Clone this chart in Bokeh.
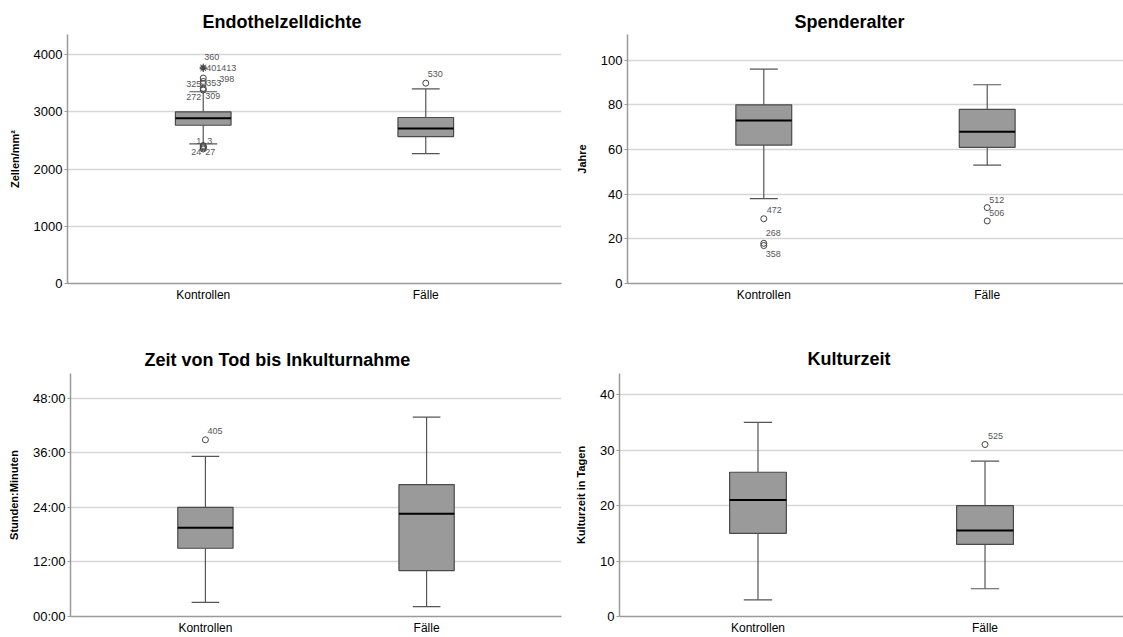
from bokeh.plotting import figure
from bokeh.models import Range1d, FixedTicker, ColumnDataSource
from bokeh.layouts import column, row
from bokeh.embed import file_html
from bokeh.resources import INLINE
from bokeh.core.properties import value

# ---------------- data ----------------
groups = ["Kontrollen", "Fälle"]
group_pos = [1, 2]

# Endothelzelldichte (Zellen/mm²)
ezd_q1 = [2765, 2567]
ezd_med = [2888, 2707]
ezd_q3 = [3000, 2900]
ezd_lo = [2440, 2270]
ezd_hi = [3350, 3400]
ezd_out_group = [0, 0, 0, 0, 0, 0, 0, 0, 0, 0, 0, 0, 1]
ezd_out_val = [3780, 3760, 3760, 3590, 3530, 3490, 3410, 3380, 2410, 2390, 2370, 2350, 3500]
ezd_out_id = ["360", "401", "413", "398", "353", "325", "309", "272", "1", "3", "24", "27", "530"]
ezd_out_extreme = [True, True, True, False, False, False, False, False, False, False, False, False, False]

# Spenderalter (Jahre)
age_q1 = [62, 61]
age_med = [73, 68]
age_q3 = [80, 78]
age_lo = [38, 53]
age_hi = [96, 89]
age_out_group = [0, 0, 0, 1, 1]
age_out_val = [29, 18, 17, 34, 28]
age_out_id = ["472", "268", "358", "512", "506"]
age_out_extreme = [False] * 5

# Zeit von Tod bis Inkulturnahme (Stunden:Minuten)
zeit_q1 = ["15:00", "10:05"]
zeit_med = ["19:30", "22:35"]
zeit_q3 = ["24:00", "29:00"]
zeit_lo = ["03:05", "02:10"]
zeit_hi = ["35:10", "43:50"]
zeit_out_group = [0]
zeit_out_val = ["38:50"]
zeit_out_id = ["405"]
zeit_out_extreme = [False]
zeit_ticks = ["00:00", "12:00", "24:00", "36:00", "48:00"]

# Kulturzeit (Tage)
kult_q1 = [15, 13]
kult_med = [21, 15.5]
kult_q3 = [26, 20]
kult_lo = [3, 5]
kult_hi = [35, 28]
kult_out_group = [1]
kult_out_val = [31]
kult_out_id = ["525"]
kult_out_extreme = [False]


def hm(s):
    h, m = s.split(":")
    return int(h) + int(m) / 60.0


# ---------------- styles ----------------
FONT = "Liberation Sans"
BOX_W = 0.25
CAP_W = 0.125
BOX_FILL = "#9a9a9a"
BOX_LINE = "#4a4a4a"
WHISK = "#555555"
GRID = "#d6d6d6"
AXIS = "#9a9a9a"

# label offsets in screen px (dx, dy) for outlier ids
ezd_dx = [1, 3, 18, 16, 3, -17, 2, -17, -7, 4, -12, 2, 2]
ezd_dy = [-10, 0, 0, 1, 2, 0, 8, 7, -5, -6, 4, 3, -9]
age_dx = [3, 2, 2, 2, 2]
age_dy = [-9, -10, 8, -8, -8]
zeit_dx = [2]
zeit_dy = [-9]
kult_dx = [3]
kult_dy = [-9]


def make_panel(title, ylabel, yend, yticks, q1, med, q3, lo, hi,
               og, ov, oid, oext, odx, ody,
               width, height, borders, title_offset, title_standoff,
               tick_overrides=None):
    p = figure(width=width, height=height,
               x_range=Range1d(0.39, 2.61), y_range=Range1d(0, yend),
               output_backend="svg", toolbar_location=None,
               min_border_left=borders[0], min_border_right=borders[1],
               min_border_top=borders[2], min_border_bottom=borders[3])
    p.outline_line_color = None
    p.background_fill_color = "white"
    p.border_fill_color = "white"

    xs = group_pos
    # whiskers
    p.segment(x0=xs, y0=q3, x1=xs, y1=hi, line_color=WHISK, line_width=1.2)
    p.segment(x0=xs, y0=q1, x1=xs, y1=lo, line_color=WHISK, line_width=1.2)
    p.segment(x0=[x - CAP_W / 2 for x in xs], x1=[x + CAP_W / 2 for x in xs],
              y0=hi, y1=hi, line_color=WHISK, line_width=1.2)
    p.segment(x0=[x - CAP_W / 2 for x in xs], x1=[x + CAP_W / 2 for x in xs],
              y0=lo, y1=lo, line_color=WHISK, line_width=1.2)
    # boxes
    p.vbar(x=xs, width=BOX_W, bottom=q1, top=q3,
           fill_color=BOX_FILL, line_color=BOX_LINE, line_width=1.2)
    # medians
    p.segment(x0=[x - BOX_W / 2 for x in xs], x1=[x + BOX_W / 2 for x in xs],
              y0=med, y1=med, line_color="black", line_width=2)

    # outliers
    ox = [group_pos[g] for g in og]
    src = ColumnDataSource(dict(x=ox, y=ov, id=oid, dx=odx, dy=ody))
    circ = [i for i, e in enumerate(oext) if not e]
    star = [i for i, e in enumerate(oext) if e]
    if circ:
        p.scatter(x=[ox[i] for i in circ], y=[ov[i] for i in circ], marker="circle",
                  size=6, fill_color=None, line_color="#444444", line_width=1)
    if star:
        p.scatter(x=[ox[i] for i in star], y=[ov[i] for i in star], marker="asterisk",
                  size=7, line_color="#444444", line_width=1)
    p.text(x="x", y="y", text="id", x_offset="dx", y_offset="dy", source=src,
           text_font=value(FONT), text_font_size="9px", text_color="#555555",
           text_baseline="middle", text_align="left")

    # axes
    p.xaxis.ticker = FixedTicker(ticks=group_pos)
    p.xaxis.major_label_overrides = {group_pos[i]: groups[i] for i in range(len(groups))}
    p.xaxis.major_tick_line_color = None
    p.xaxis.major_tick_out = 0
    p.xaxis.major_tick_in = 0
    p.xaxis.minor_tick_line_color = None
    p.xaxis.minor_tick_out = 0
    p.xaxis.major_label_standoff = 4
    p.xaxis.major_label_text_font = FONT
    p.xaxis.major_label_text_font_size = "12px"
    p.xaxis.major_label_text_color = "black"
    p.xaxis.axis_line_color = AXIS
    p.xaxis.axis_line_width = 1.5

    p.yaxis.ticker = FixedTicker(ticks=yticks)
    if tick_overrides:
        p.yaxis.major_label_overrides = tick_overrides
    p.yaxis.minor_tick_line_color = None
    p.yaxis.major_tick_in = 0
    p.yaxis.major_tick_out = 3
    p.yaxis.major_tick_line_color = AXIS
    p.yaxis.major_label_standoff = 2
    p.yaxis.major_label_text_font = FONT
    p.yaxis.major_label_text_font_size = "13px"
    p.yaxis.major_label_text_color = "black"
    p.yaxis.axis_line_color = AXIS
    p.yaxis.axis_line_width = 1.5
    p.yaxis.axis_label = ylabel
    p.yaxis.axis_label_text_font = FONT
    p.yaxis.axis_label_text_font_size = "11px"
    p.yaxis.axis_label_text_font_style = "bold"
    p.yaxis.axis_label_text_color = "black"
    p.yaxis.axis_label_standoff = 10

    p.xgrid.grid_line_color = None
    p.ygrid.ticker = FixedTicker(ticks=[t for t in yticks if t > 0])
    p.ygrid.grid_line_color = GRID
    p.ygrid.grid_line_width = 1.5

    p.title.text = title
    p.title.align = "left"
    p.title.text_font = FONT
    p.title.text_font_size = "18px"
    p.title.text_font_style = "bold"
    p.title.text_color = "black"
    p.title.offset = title_offset
    p.title.standoff = title_standoff
    return p


# frames in one row share their top edge, so the y-range ends are set to keep
# the tick positions of the reference
p1 = make_panel("Endothelzelldichte", "Zellen/mm²", 4350, [0, 1000, 2000, 3000, 4000],
                ezd_q1, ezd_med, ezd_q3, ezd_lo, ezd_hi,
                ezd_out_group, ezd_out_val, ezd_out_id, ezd_out_extreme, ezd_dx, ezd_dy,
                568, 330, (67, 7, 34, 47), 135, 6)

p2 = make_panel("Spenderalter", "Jahre", 111.5, [0, 20, 40, 60, 80, 100],
                age_q1, age_med, age_q3, age_lo, age_hi,
                age_out_group, age_out_val, age_out_id, age_out_extreme, age_dx, age_dy,
                555, 330, (59, 0, 34, 47), 167, 5)

zt = [hm(s) for s in zeit_ticks]
p3 = make_panel("Zeit von Tod bis Inkulturnahme", "Stunden:Minuten", 53.4, zt,
                [hm(s) for s in zeit_q1], [hm(s) for s in zeit_med], [hm(s) for s in zeit_q3],
                [hm(s) for s in zeit_lo], [hm(s) for s in zeit_hi],
                zeit_out_group, [hm(s) for s in zeit_out_val], zeit_out_id, zeit_out_extreme,
                zeit_dx, zeit_dy,
                568, 307, (70, 7, 43, 21), 74, 7,
                tick_overrides={zt[i]: zeit_ticks[i] for i in range(len(zt))})

p4 = make_panel("Kulturzeit", "Kulturzeit in Tagen", 43.8, [0, 10, 20, 30, 40],
                kult_q1, kult_med, kult_q3, kult_lo, kult_hi,
                kult_out_group, kult_out_val, kult_out_id, kult_out_extreme, kult_dx, kult_dy,
                555, 307, (51, 0, 43, 21), 188, 9)

layout = column(row(p1, p2), row(p3, p4))
open("out.html", "w").write(file_html(layout, INLINE))
